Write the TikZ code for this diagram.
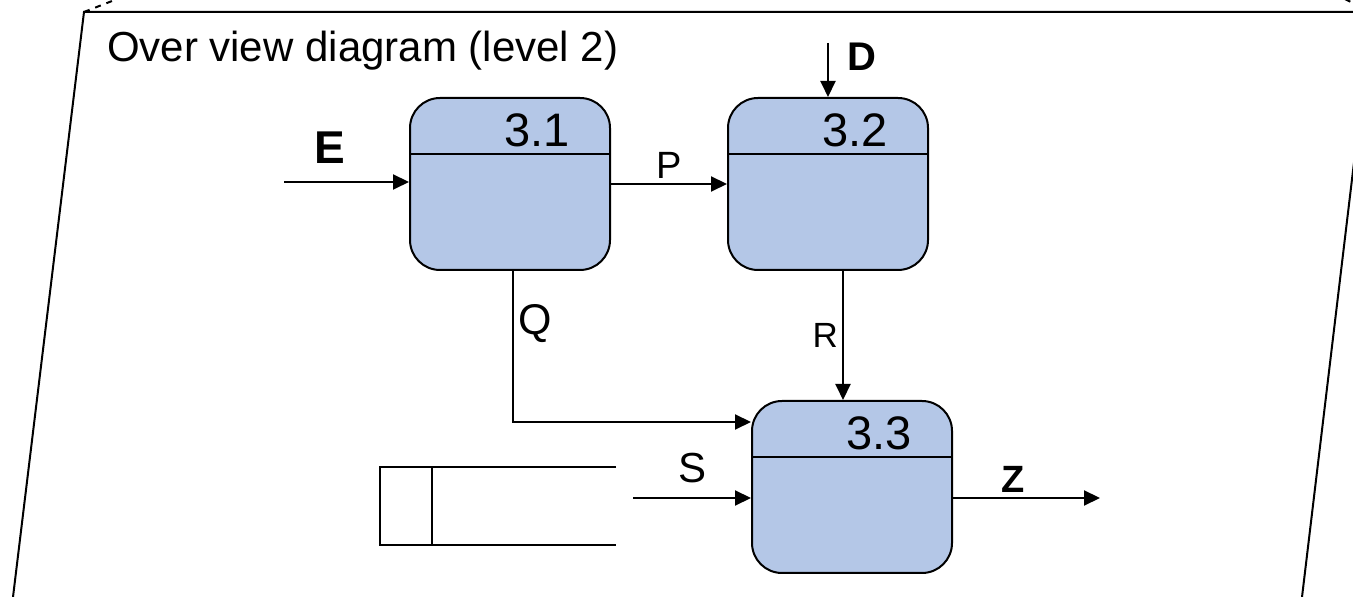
\documentclass[tikz,border=0pt]{standalone}
\usepackage{fontspec}
\setmainfont{Liberation Sans}
\usetikzlibrary{arrows.meta,positioning}
\definecolor{procblue}{RGB}{180,199,231}

\begin{document}
\begin{tikzpicture}[x=0.5pt, y=-0.5pt, line width=1pt, >={Triangle[length=8pt,width=7.5pt]}]
        \tikzstyle{process}=[rectangle,rounded corners=15pt,draw=black,fill=procblue,minimum width=100pt,minimum height=86pt,inner sep=0pt]
        \tikzstyle{procnum}=[font=\fontsize{23.5}{28}\selectfont,inner sep=0pt,anchor=base]
        \tikzstyle{flowlabel}=[font=\fontsize{21}{25}\selectfont,inner sep=0pt]
        \tikzstyle{extlabel}=[font=\bfseries\fontsize{23}{27}\selectfont,inner sep=0pt]
        \tikzstyle{store}=[rectangle,minimum width=117pt,minimum height=38pt,inner sep=0pt]
        \tikzstyle{flow}=[->]

        \useasboundingbox (0,0) rectangle (1353,597);
        \clip (0,0) rectangle (1353,597);

        % the plane
        \draw (13,597) -- (84,12) -- (1372,12) -- (1302,597);
        \draw[dash pattern=on 3pt off 3pt] (84,12) -- (130,-6);
        \draw[dash pattern=on 3pt off 3pt] (1372,12) -- (1330,-8);
        \node[anchor=base west,font=\fontsize{21}{25}\selectfont,inner sep=0pt] (title) at (106,62) {Over view diagram (level 2)};

        % processes
        \node[process] (p31) at (510,184) {};
        \node[process] (p32) at (828,184) {};
        \node[process] (p33) at (852,487) {};
        \foreach \p/\n in {p31/3.1, p32/3.2, p33/3.3} {
            \draw ([yshift=-28.5pt]\p.north west) -- ([yshift=-28.5pt]\p.north east);
            \node[procnum] (n\p) at ([xshift=13.5pt,yshift=-25pt]\p.north) {\n};
        }

        % data store
        \node[store] (ds) at (498,506) {};
        \draw (ds.north east) -- (ds.north west) -- (ds.south west) -- (ds.south east);
        \draw ([xshift=26pt]ds.north west) -- ([xshift=26pt]ds.south west);

        % flows
        \coordinate (Ein) at (284,182);
        \coordinate (Din) at (828,43);
        \coordinate (Qin) at ([yshift=-11pt]p33.north west);
        \coordinate (Sin) at (633,498);
        \coordinate (Zout) at (1100,498);

        \draw[flow] (Ein) -- node[extlabel,pos=0.37,above=8.5pt] (lE) {E} (Ein -| p31.west);
        \draw[flow] (Din) -- node[extlabel,font=\bfseries\fontsize{20}{24}\selectfont,pos=0.26,right=9pt] (lD) {D} (p32.north);
        \draw[flow] (p31.east) -- node[flowlabel,font=\fontsize{19}{23}\selectfont,above=2pt] (lP) {P} (p32.west);
        \draw[flow] ([xshift=1.5pt]p31.south) -- node[flowlabel,font=\fontsize{21.5}{26}\selectfont,pos=0.35,right=2pt] (lQ) {Q} ([xshift=1.5pt]p31.south |- Qin) -- (Qin);
        \draw[flow] ([xshift=7.5pt]p32.south) -- node[flowlabel,font=\fontsize{17.5}{21}\selectfont,pos=0.5,left=2pt] (lR) {R} ([xshift=7.5pt]p32.south |- p33.north);
        \draw[flow] (Sin) -- node[flowlabel,above=7pt] (lS) {S} (Sin -| p33.west);
        \draw[flow] (Zout -| p33.east) -- node[extlabel,font=\bfseries\fontsize{19}{23}\selectfont,pos=0.41,above=2pt] (lZ) {Z} (Zout);
\end{tikzpicture}
\end{document}
